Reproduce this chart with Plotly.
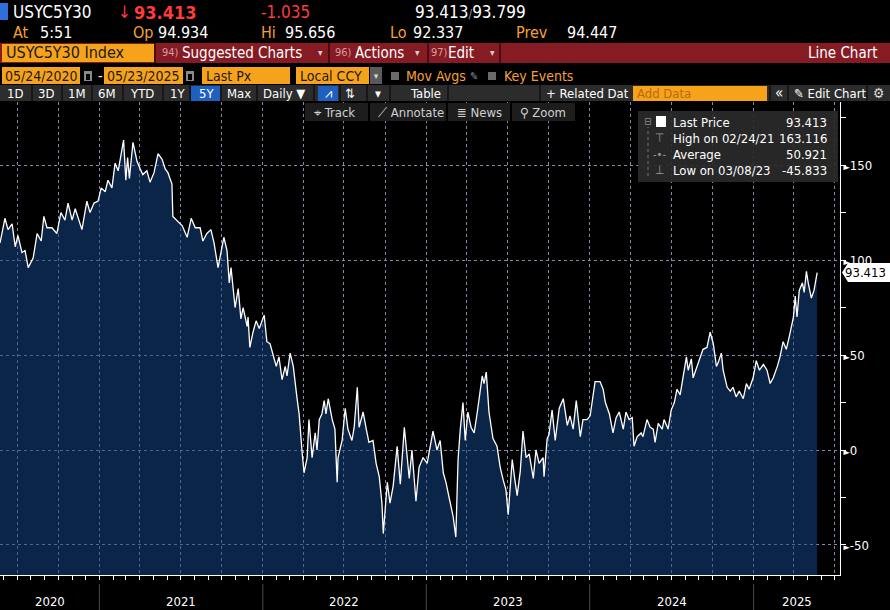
import plotly.graph_objects as go

# USYC5Y30 Index, last px, sampled off the terminal chart
dates = [
    "2020-05-24", "2020-06-04", "2020-06-11", "2020-06-20", "2020-06-27", "2020-07-03", "2020-07-12",
    "2020-07-19", "2020-07-26", "2020-08-06", "2020-08-15", "2020-08-24", "2020-08-30", "2020-09-06",
    "2020-09-17", "2020-09-28", "2020-10-07", "2020-10-16", "2020-10-23", "2020-11-01", "2020-11-08",
    "2020-11-14", "2020-11-23", "2020-12-04", "2020-12-11", "2020-12-20", "2020-12-29",
    "2021-01-05", "2021-01-14", "2021-01-20", "2021-01-29", "2021-02-05", "2021-02-12", "2021-02-24",
    "2021-03-01", "2021-03-05", "2021-03-09", "2021-03-17", "2021-03-26", "2021-04-02", "2021-04-08",
    "2021-04-17", "2021-04-24", "2021-05-03", "2021-05-12", "2021-05-21", "2021-05-28", "2021-06-03",
    "2021-06-12", "2021-06-14", "2021-06-23", "2021-07-05", "2021-07-16", "2021-07-25", "2021-08-03",
    "2021-08-14", "2021-08-20", "2021-08-29", "2021-09-07", "2021-09-14", "2021-09-23", "2021-10-02",
    "2021-10-06", "2021-10-13", "2021-10-18", "2021-10-22", "2021-10-27", "2021-10-31", "2021-11-07",
    "2021-11-13", "2021-11-18", "2021-11-27", "2021-11-29", "2021-12-03", "2021-12-10", "2021-12-17",
    "2021-12-24",
    "2022-01-04", "2022-01-10", "2022-01-17", "2022-01-24", "2022-01-31", "2022-02-06", "2022-02-13",
    "2022-02-20", "2022-02-24", "2022-03-03", "2022-03-10", "2022-03-18", "2022-03-23", "2022-03-30",
    "2022-04-03", "2022-04-10", "2022-04-14", "2022-04-21", "2022-04-28", "2022-05-02", "2022-05-07",
    "2022-05-13", "2022-05-18", "2022-05-22", "2022-05-27", "2022-06-05", "2022-06-11", "2022-06-16",
    "2022-06-18", "2022-06-27", "2022-07-04", "2022-07-10", "2022-07-19", "2022-07-24", "2022-07-31",
    "2022-08-04", "2022-08-13", "2022-08-20", "2022-08-26", "2022-09-04", "2022-09-11", "2022-09-18",
    "2022-09-24", "2022-09-27", "2022-10-01", "2022-10-06", "2022-10-12", "2022-10-19", "2022-10-28",
    "2022-11-04", "2022-11-13", "2022-11-19", "2022-11-24", "2022-11-30", "2022-12-09", "2022-12-16",
    "2022-12-25",
    "2023-01-03", "2023-01-10", "2023-01-16", "2023-01-25", "2023-02-01", "2023-02-08", "2023-02-14",
    "2023-02-21", "2023-03-02", "2023-03-08", "2023-03-13", "2023-03-18", "2023-03-24", "2023-03-29",
    "2023-04-04", "2023-04-11", "2023-04-18", "2023-04-25", "2023-05-06", "2023-05-10", "2023-05-15",
    "2023-05-21", "2023-05-30", "2023-06-08", "2023-06-15", "2023-06-22", "2023-06-28", "2023-07-03",
    "2023-07-12", "2023-07-18", "2023-07-23", "2023-07-30", "2023-08-05", "2023-08-12", "2023-08-19",
    "2023-08-28", "2023-09-03", "2023-09-10", "2023-09-19", "2023-09-21", "2023-09-28", "2023-10-02",
    "2023-10-09", "2023-10-16", "2023-10-25", "2023-11-03", "2023-11-12", "2023-11-18", "2023-11-25",
    "2023-12-02", "2023-12-11", "2023-12-17", "2023-12-26",
    "2024-01-02", "2024-01-13", "2024-01-24", "2024-01-31", "2024-02-05", "2024-02-14", "2024-02-22",
    "2024-02-29", "2024-03-07", "2024-03-16", "2024-03-22", "2024-03-29", "2024-04-05", "2024-04-09",
    "2024-04-16", "2024-04-25", "2024-04-29", "2024-05-08", "2024-05-15", "2024-05-22", "2024-05-26",
    "2024-06-02", "2024-06-11", "2024-06-15", "2024-06-24", "2024-07-01", "2024-07-08", "2024-07-14",
    "2024-07-21", "2024-07-28", "2024-08-04", "2024-08-08", "2024-08-15", "2024-08-19", "2024-08-28",
    "2024-09-04", "2024-09-10", "2024-09-19", "2024-09-26", "2024-10-03", "2024-10-10", "2024-10-14",
    "2024-10-21", "2024-10-25", "2024-11-03", "2024-11-10", "2024-11-16", "2024-11-23", "2024-11-30",
    "2024-12-09", "2024-12-16", "2024-12-22", "2024-12-31",
    "2025-01-07", "2025-01-14", "2025-01-23", "2025-01-31", "2025-02-07", "2025-02-14", "2025-02-23",
    "2025-03-01", "2025-03-08", "2025-03-15", "2025-03-22", "2025-03-31", "2025-04-04", "2025-04-08",
    "2025-04-13", "2025-04-20", "2025-04-24", "2025-04-29", "2025-05-03", "2025-05-10", "2025-05-16",
    "2025-05-23",
]
values = [
    109, 122, 116, 119, 107, 113, 104,
    105, 96, 101, 114, 110, 123, 117,
    117, 114, 125, 121, 130, 121, 127,
    123, 116, 131, 125, 130, 131,
    138, 136, 142, 138, 151, 147, 163.116,
    142, 154, 143, 162, 152, 148, 145,
    147, 141, 146, 156, 153, 148, 146,
    140, 123, 121, 118, 112, 122, 117,
    117, 110, 114, 116, 109, 96, 107,
    112, 105, 88, 96, 86, 75, 85,
    69, 75, 65, 70, 54, 62, 68,
    64,
    71, 57, 56, 50, 44, 49, 37,
    44, 39, 51, 44, 28, 19, -2,
    -12, -4, 16, -4, 9, 0, 16,
    19, 26, 19, 27, 16, 11, -17,
    -4, 5, 22, 11, 5, 12, 33,
    12, 20, 11, 4, 5, -7, -14,
    -28, -44, -30, -17, -28, -19, 2,
    -18, 12, -5, -15, 0, -27, -9,
    -4,
    -7, 3, 10, 0, 5, -12, -17,
    -25, -35, -45.833, -5, 11, 25, 5,
    20, 12, 9, 20, 39, 35, 41,
    20, 6, 2, -9, -16, -21, -34,
    -5, -16, -24, -11, 10, -4, -2,
    -15, 0, -7, -4, -14, 6, 8,
    21, 5, 22, 27, 13, 18, 11,
    26, 7, 16, 16,
    18, 36, 36, 32, 25, 19, 9,
    17, 20, 11, 20, 16, 17, 2,
    7, 9, 7, 16, 12, 11, 4,
    14, 11, 16, 11, 21, 25, 32,
    29, 38, 49, 42, 48, 38, 44,
    49, 53, 54, 62, 56, 44, 46,
    51, 42, 33, 31, 33, 28, 31,
    27, 35, 32, 38,
    47, 42, 45, 42, 35, 38, 44,
    49, 57, 53, 60, 70, 81, 70,
    84, 88, 83, 94, 88, 80, 84,
    93.413,
]

year_labels = ["2020", "2021", "2022", "2023", "2024", "2025"]
year_label_dates = ["2020-09-12", "2021-07-02", "2022-07-02", "2023-07-02", "2024-07-02", "2025-04-07"]
year_starts = ["2021-01-01", "2022-01-01", "2023-01-01", "2024-01-01", "2025-01-01"]
y_ticks = [-50, 0, 50, 100, 150]

X_RANGE = ["2020-05-24", "2025-07-13"]
Y_RANGE = [-65.8, 183.2]

W, H = 890, 610
L, R, T, B = 0, 50, 102, 35
PW, PH = W - L - R, H - T - B

FONT = "Liberation Sans Narrow, DejaVu Sans Condensed, Liberation Sans, Arial, sans-serif"
ORANGE_TXT = "#f7a030"
ORANGE_BOX = "#f7a21b"
RED = "#ff3b3b"
MAROON = "#861b23"
GRID = "#8a86a8"


def px(x):
    return (x - L) / PW


def py(y):
    return (H - B - y) / PH


def note(x, y, text, color="white", size=14, anchor="left"):
    return dict(x=px(x), y=py(y), xref="paper", yref="paper", text=text, showarrow=False,
                xanchor=anchor, yanchor="middle", font=dict(family=FONT, size=size, color=color))


def box(x0, y0, x1, y1, color):
    return dict(type="rect", xref="paper", yref="paper", x0=px(x0), x1=px(x1),
                y0=py(y1), y1=py(y0), fillcolor=color, line_width=0, layer="above")


def vline(x, y0, y1, color, width=1, dash="solid"):
    return dict(type="line", xref="paper", yref="paper", x0=px(x), x1=px(x),
                y0=py(y1), y1=py(y0), line=dict(color=color, width=width, dash=dash), layer="above")


fig = go.Figure()
# floor of the plot so the area fills down to the bottom axis
fig.add_trace(go.Scatter(x=[dates[0], dates[-1]], y=[Y_RANGE[0], Y_RANGE[0]], mode="lines",
                         line=dict(width=0), hoverinfo="skip", showlegend=False))
fig.add_trace(go.Scatter(x=dates, y=values, mode="lines", fill="tonexty",
                         fillcolor="rgba(22,70,140,0.52)", line=dict(color="white", width=1.3),
                         name="Last Price", showlegend=False))

shapes = []
ann = []

# row 1 / row 2 : quote header
shapes.append(box(0, 3, 8, 20, "#2f6fd8"))
ann += [
    note(11, 12, "USYC5Y30", size=17),
    note(116, 12, "↓", RED, 17),
    note(132, 12, "<b>93.413</b>", RED, 18),
    note(259, 12, "-1.035", RED, 17),
    note(413, 12, "93.413<span style='color:#999;font-size:12px'>/</span>93.799", size=17),
    note(11, 32, "At", ORANGE_TXT, 16),
    note(38, 32, "5:51", size=16),
    note(131, 32, "Op", ORANGE_TXT, 16),
    note(156, 32, "94.934", size=16),
    note(259, 32, "Hi", ORANGE_TXT, 16),
    note(283, 32, "95.656", size=16),
    note(388, 32, "Lo", ORANGE_TXT, 16),
    note(411, 32, "92.337", size=16),
    note(514, 32, "Prev", ORANGE_TXT, 16),
    note(565, 32, "94.447", size=16),
]

# row 3 : red command bar
shapes += [box(0, 43, 890, 63, MAROON), box(2, 44, 155, 62, ORANGE_BOX)]
for xd in [155, 329, 428, 500]:
    shapes.append(vline(xd, 43, 63, "#4a0c10", 2))
ann += [
    note(4, 53, "USYC5Y30 Index", "#1a1a1a", 16),
    note(160, 53, "94)", "#d99aa0", 11),
    note(180, 53, "Suggested Charts", size=15),
    note(316, 53, "▾", "#d0d0d0", 10),
    note(333, 53, "96)", "#d99aa0", 11),
    note(353, 53, "Actions", size=15),
    note(413, 53, "▾", "#d0d0d0", 10),
    note(429, 53, "97)", "#d99aa0", 11),
    note(446, 53, "Edit", size=15),
    note(488, 53, "▾", "#d0d0d0", 10),
    note(880, 53, "Line Chart", size=15, anchor="right"),
]

# row 4 : date range and options
for x0, x1 in [(2, 80), (104, 183), (202, 290), (296, 369)]:
    shapes.append(box(x0, 67, x1, 84, ORANGE_BOX))
shapes += [
    box(370, 67, 382, 84, "#5a5a5a"),
    box(391, 72, 399, 80, "#6a6a6a"),
    box(488, 72, 496, 80, "#6a6a6a"),
    box(84, 71, 92, 81, "#8a8a8a"), box(86, 74, 90, 80, "#000000"),
    box(186, 71, 194, 81, "#8a8a8a"), box(188, 74, 192, 80, "#000000"),
]
ann += [
    note(3, 76, "05/24/2020", "#1a1a1a", 14),
    note(96, 76, "-", size=14),
    note(105, 76, "05/23/2025", "#1a1a1a", 14),
    note(204, 76, "Last Px", "#1a1a1a", 14),
    note(298, 76, "Local CCY", "#1a1a1a", 14),
    note(376, 76, "▾", "#dddddd", 9, "center"),
    note(404, 76, "Mov Avgs", ORANGE_TXT, 14),
    note(468, 76, "✎", "#8a8a8a", 11),
    note(502, 76, "Key Events", ORANGE_TXT, 14),
]

# row 5 : period buttons
shapes += [box(0, 85, 890, 101, "#2c2c2c"), box(191, 86, 220, 101, "#1f5fbf"),
           box(318, 86, 338, 101, "#1f5fbf"), box(633, 86, 767, 101, ORANGE_BOX)]
for xd in [32, 62, 92, 123, 163, 190, 221, 257, 314, 340, 367, 390, 448, 540, 770, 788, 867]:
    shapes.append(vline(xd, 85, 101, "#111111", 1.5))
row5 = [(15, "1D"), (46, "3D"), (77, "1M"), (107, "6M"), (142, "YTD"), (177, "1Y"), (206, "5Y"),
        (239, "Max"), (284, "Daily ▼"), (328, "⩘"), (350, "⇅"), (378, "▾"), (425, "Table")]
for xc, s in row5:
    ann.append(note(xc, 93, s, size=13, anchor="center"))
ann += [
    note(544, 93, "+ Related Dat", size=13),
    note(635, 93, "Add Data", "#b86a10", 13),
    note(779, 93, "«", size=15, anchor="center"),
    note(792, 93, "✎ Edit Chart", size=13),
    note(878, 93, "⚙", "#dddddd", 14, "center"),
]

# row 6 : chart tools floating on the plot
for x0, x1 in [(305, 368), (370, 446), (448, 510), (512, 575)]:
    shapes.append(box(x0, 103, x1, 121, "#1d1d1d"))
ann += [
    note(312, 112, "⌖ Track", "#d0d0d0", 13),
    note(376, 112, "⟋ Annotate", "#d0d0d0", 13),
    note(455, 112, "≣ News", "#d0d0d0", 13),
    note(518, 112, "⚲ Zoom", "#d0d0d0", 13),
]

# statistics box, top right of the plot
shapes += [box(638, 111, 838, 182, "rgba(42,42,42,0.92)"),
           vline(648, 127, 176, "#777777", 1, "dot"),
           box(656, 116, 666, 127, "#ffffff")]
ann += [
    note(648, 121, "⊟", "#888888", 10, "center"),
    note(659, 138, "⊤", "#9a9a9a", 12, "center"),
    note(659, 154, "-•-", "#9a9a9a", 11, "center"),
    note(659, 170, "⊥", "#9a9a9a", 12, "center"),
    note(671, 122, "Last Price", size=13),
    note(671, 138, "High on 02/24/21", size=13),
    note(671, 154, "Average", size=13),
    note(671, 170, "Low on 03/08/23", size=13),
    note(829, 122, "93.413", size=13, anchor="right"),
    note(829, 138, "163.116", size=13, anchor="right"),
    note(829, 154, "50.921", size=13, anchor="right"),
    note(829, 170, "-45.833", size=13, anchor="right"),
]

# last price tag on the right axis
tag_y = py(450 - 93.413 * 1.9)
shapes.append(dict(type="path", xref="paper", yref="paper", fillcolor="#ffffff", line_width=0, layer="above",
                   path=f"M {px(842)} {tag_y} L {px(848)} {py(263)} L {px(890)} {py(263)} "
                        f"L {px(890)} {py(282)} L {px(848)} {py(282)} Z"))
ann.append(dict(x=px(888), y=values[-1], xref="paper", yref="y", text="93.413", showarrow=False,
                xanchor="right", yanchor="middle", font=dict(family=FONT, size=13, color="#000000")))

# year labels under the axis and separators
for d, s in zip(year_label_dates, year_labels):
    ann.append(dict(x=d, y=py(601), xref="x", yref="paper", text=s, showarrow=False,
                    xanchor="center", yanchor="middle", font=dict(family=FONT, size=13, color="white")))
for d in year_starts:
    shapes.append(dict(type="line", xref="x", yref="paper", x0=d, x1=d, y0=py(610), y1=py(584),
                       line=dict(color="#4a4a4a", width=1), layer="above"))

fig.update_layout(
    width=W, height=H,
    margin=dict(l=L, r=R, t=T, b=B),
    paper_bgcolor="#000000", plot_bgcolor="#000000",
    shapes=shapes, annotations=ann,
    hovermode=False,
    xaxis=dict(type="date", range=X_RANGE, showgrid=True, gridcolor=GRID, griddash="dot", gridwidth=1,
               dtick="M3", tick0="2020-01-01", showticklabels=False,
               ticks="outside", ticklen=4, tickcolor="white",
               minor=dict(dtick="M1", ticks="outside", ticklen=4, tickcolor="white", showgrid=False),
               showline=True, linecolor="white", linewidth=1, zeroline=False, fixedrange=True),
    yaxis=dict(range=Y_RANGE, side="right", tickvals=y_ticks,
               ticktext=[f"<span style='font-size:9px'>►</span>{v}" for v in y_ticks],
               showgrid=True, gridcolor=GRID, griddash="dot", gridwidth=1, zeroline=False,
               ticks="", showline=True, linecolor="white", linewidth=1,
               minor=dict(dtick=25, tick0=0, ticks="outside", ticklen=5, tickcolor="white", showgrid=False),
               tickfont=dict(family=FONT, size=13, color="white"), fixedrange=True),
)

# page body has a default 8px margin, drop it so the chart sits flush in the window
fig.write_html("out.html", config={"displayModeBar": False},
               post_script="document.body.style.margin='0px';document.body.style.background='#000';")
